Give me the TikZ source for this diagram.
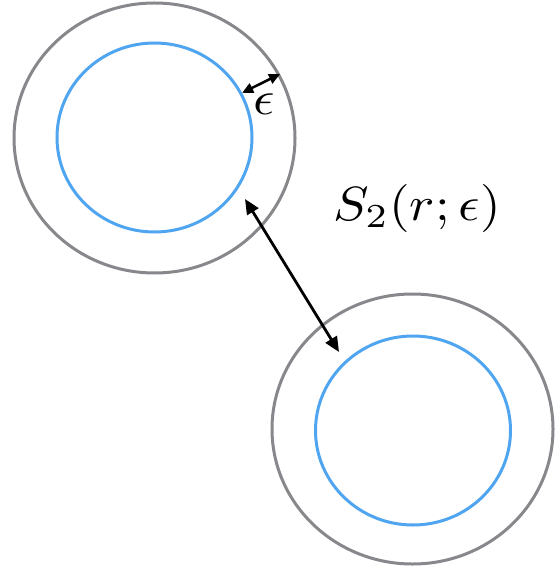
\documentclass[tikz,border=0pt]{standalone}
\usepackage{amsmath}
\usetikzlibrary{shapes.geometric, arrows.meta, positioning, calc}
\definecolor{ringgray}{RGB}{135,135,140}
\definecolor{ringblue}{RGB}{80,165,240}

\begin{document}
\begin{tikzpicture}[x=1pt, y=-1pt,
  outerring/.style={ellipse, draw=ringgray, line width=3pt, minimum width=281pt, minimum height=270pt, inner sep=0pt},
  innerring/.style={ellipse, draw=ringblue, line width=3pt, minimum width=195pt, minimum height=189pt, inner sep=0pt},
  arr/.style={{Triangle[length=15pt,width=13pt]}-{Triangle[length=15pt,width=13pt]}, line width=2.8pt},
  smallarr/.style={{Triangle[length=11pt,width=10pt]}-{Triangle[length=11pt,width=10pt]}, line width=2.5pt},
  lbl/.style={inner sep=0pt, xscale=5.3, yscale=4.8}
]
\useasboundingbox (0,0) rectangle (556,569);
% first pair of rings
\node[outerring] (outerA) at (154.5,138) {};
\node[innerring] (innerA) at (154.5,137.5) {};
% second pair of rings
\node[outerring] (outerB) at (412.5,429) {};
\node[innerring] (innerB) at (413,430.5) {};
% ring width
\draw[smallarr] (innerA.27) -- (outerA.27);
\node[lbl] (eps) at (264,104) {$\epsilon$};
% distance between the sets
\coordinate (pA) at (245,199);
\coordinate (pB) at (339,352);
\draw[arr] (pA) -- (pB);
\node[lbl] (sset) at (417,208.5) {$S_2(r;\epsilon)$};
\end{tikzpicture}
\end{document}
